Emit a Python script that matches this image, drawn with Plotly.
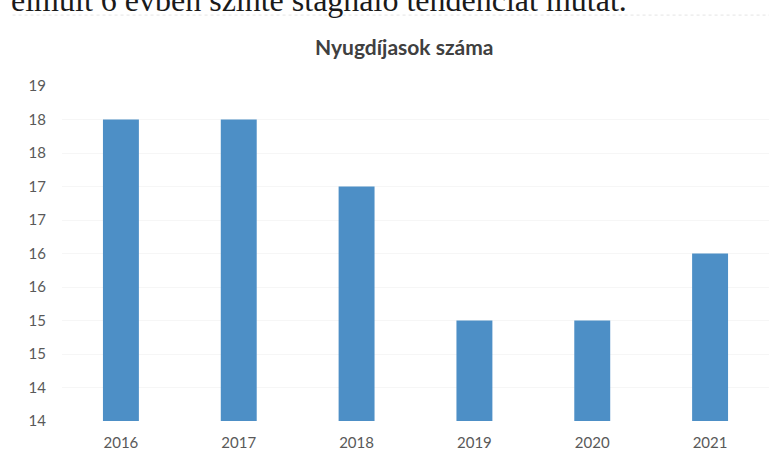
import plotly.graph_objects as go

years = ["2016", "2017", "2018", "2019", "2020", "2021"]
pensioners = [18, 18, 17, 15, 15, 16]
tick_values = [13.5, 14, 14.5, 15, 15.5, 16, 16.5, 17, 17.5, 18, 18.5]
tick_labels = ["14", "14", "15", "15", "16", "16", "17", "17", "18", "18", "19"]
title_text = "Nyugdíjasok száma"
page_text = "elmúlt 6 évben szinte stagnáló tendenciát mutat."

W, H = 784, 452
ml, mr, mt, mb = 61.5, 14.5, 86, 30.5
PW, PH = W - ml - mr, H - mt - mb


def px_x(x):
    return (x - ml) / PW


def px_y(y):
    return (H - mb - y) / PH


fig = go.Figure(go.Bar(
    x=years, y=pensioners,
    marker=dict(color="#4d8fc6", line=dict(width=0)),
))

fig.update_layout(
    width=W, height=H,
    margin=dict(l=ml, r=mr, t=mt, b=mb, pad=0, autoexpand=False),
    paper_bgcolor="white", plot_bgcolor="white",
    bargap=0.695,
    showlegend=False,
    font=dict(family="Lato", color="#595959", size=15),
    annotations=[
        dict(text="<b>" + title_text + "</b>", xref="paper", yref="paper",
             x=px_x(404), y=px_y(46),
             xanchor="center", yanchor="middle", showarrow=False,
             font=dict(family="Lato", size=21, color="#404040")),
        dict(text=page_text, xref="paper", yref="paper",
             x=px_x(8), y=px_y(20),
             xanchor="left", yanchor="bottom", showarrow=False,
             font=dict(family="Liberation Serif", size=32, color="#1a1a1a")),
    ],
    shapes=[
        dict(type="line", xref="paper", yref="paper",
             x0=px_x(12), x1=1.0, y0=px_y(15), y1=px_y(15),
             line=dict(color="#e4e4e4", width=1, dash="dot")),
    ],
)

fig.update_yaxes(
    range=[13.5, 18.5], tickvals=tick_values, ticktext=tick_labels,
    showgrid=True, gridcolor="#f6f6f6", gridwidth=1, automargin=False,
    zeroline=False, showline=False, ticks="", ticklabelstandoff=15,
)
fig.update_xaxes(
    showgrid=False, showline=False, ticks="", ticklabelstandoff=11,
    automargin=False,
)

fig.write_html("out.html", config={"displayModeBar": False},
               post_script="document.body.style.margin='0';")
